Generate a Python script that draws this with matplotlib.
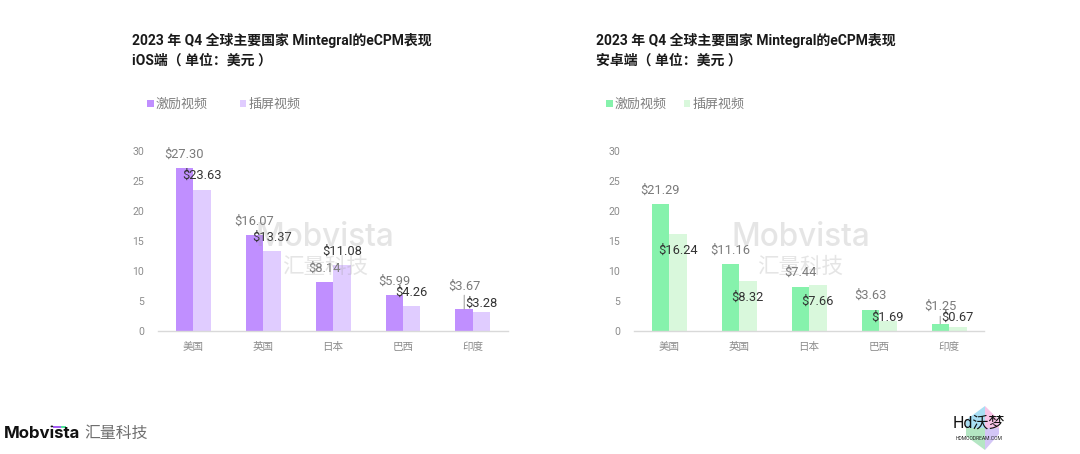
import matplotlib
matplotlib.use("Agg")
import matplotlib.pyplot as plt
from matplotlib.patches import Polygon, Rectangle

plt.rcParams['font.family'] = ['Roboto', 'Noto Sans CJK SC', 'DejaVu Sans']

W, H = 1080, 454
countries = ['美国', '英国', '日本', '巴西', '印度']
yticks = [0, 5, 10, 15, 20, 25, 30]
series_names = ['激励视频', '插屏视频']

ios_reward = [27.30, 16.07, 8.14, 5.99, 3.67]
ios_inter = [23.63, 13.37, 11.08, 4.26, 3.28]
android_reward = [21.29, 11.16, 7.44, 3.63, 1.25]
android_inter = [16.24, 8.32, 7.66, 1.69, 0.67]

# vertical label offsets in pixels above the bar top
ios_reward_dy = [13.5, 13.5, 13.8, 13.7, 22.6]
ios_inter_dy = [13.8, 14, 13.8, 13.7, 8]
android_reward_dy = [13.6, 14, 14, 13.8, 17]
android_inter_dy = [-16.4, -15.9, -16, 4, 10.3]

PX = 72 / 100  # points per pixel at dpi 100
BAR_W = 0.25
fig = plt.figure(figsize=(W / 100, H / 100), dpi=100, facecolor='white')


def make_axes(x0, x1, y_top=151.3, y_bot=331.3):
    ax = fig.add_axes([x0 / W, 1 - y_bot / H, (x1 - x0) / W, (y_bot - y_top) / H], zorder=2)
    ax.set_xlim(-0.5, 4.5)
    ax.set_ylim(0, 30)
    ax.patch.set_alpha(0)
    for s in ('top', 'right', 'left'):
        ax.spines[s].set_visible(False)
    ax.spines['bottom'].set_color('#d9d9d9')
    ax.spines['bottom'].set_linewidth(1.0)
    ax.set_yticks(yticks)
    ax.set_xticks(range(len(countries)), countries)
    ax.tick_params(axis='both', length=0, colors='#8c8c8c', labelsize=7.6)
    ax.tick_params(axis='x', pad=8)
    ax.tick_params(axis='y', pad=10)
    return ax


def draw(ax, a, b, ca, cb, dya, dyb):
    xs = list(range(len(a)))
    ha = ax.bar([x - BAR_W / 2 for x in xs], a, BAR_W, color=ca)
    hb = ax.bar([x + BAR_W / 2 for x in xs], b, BAR_W, color=cb)
    for x, v, dy in zip(xs, a, dya):
        ax.annotate(f'${v:.2f}', (x - BAR_W / 2, v), xytext=(0, dy * PX), textcoords='offset points',
                    ha='center', va='center', fontsize=9.3, color='#7a7a7a', zorder=6)
    for x, v, dy in zip(xs, b, dyb):
        ax.annotate(f'${v:.2f}', (x + BAR_W / 2, v), xytext=(0, dy * PX), textcoords='offset points',
                    ha='center', va='center', fontsize=9.3, color='#333333', zorder=6)
    return ha, hb


def leader(ax, i, v, length):
    ax.annotate('', (i - BAR_W / 2, v), xytext=(0, length * PX), textcoords='offset points',
                arrowprops=dict(arrowstyle='-', color='#a6a6a6', lw=0.8, shrinkA=0, shrinkB=0))


ax1 = make_axes(158, 508)
h1 = draw(ax1, ios_reward, ios_inter, '#c08fff', '#e0ccff', ios_reward_dy, ios_inter_dy)
leader(ax1, 4, ios_reward[4], 14)

ax2 = make_axes(634, 984)
h2 = draw(ax2, android_reward, android_inter, '#86f2ac', '#d9f8dc', android_reward_dy, android_inter_dy)
leader(ax2, 4, android_reward[4], 7.5)

for h, x, gap in ((h1, 147, 2.45), (h2, 606, 1.3)):
    fig.legend(h, series_names, ncols=2, frameon=False, loc='center left',
               bbox_to_anchor=(x / W, 1 - 104.5 / H), fontsize=9.4, labelcolor='#7f7f7f',
               handlelength=0.5, handleheight=0.5, handletextpad=0.16, columnspacing=gap,
               borderpad=0, borderaxespad=0)

# overlay in pixel coordinates: titles, watermarks, logos
ov = fig.add_axes([0, 0, 1, 1], zorder=5)
ov.set_xlim(0, W)
ov.set_ylim(H, 0)
ov.axis('off')
ov.patch.set_alpha(0)

for x, sub in ((132, 'iOS端（ 单位：美元 ）'), (596, '安卓端（ 单位：美元 ）')):
    ov.text(x, 40, '2023 年 Q4 全球主要国家 Mintegral的eCPM表现', fontsize=10, fontweight='bold',
            color='#1a1a1a', va='center', ha='left')
    ov.text(x, 61, sub, fontsize=10, fontweight='bold', color='#1a1a1a', va='center', ha='left')

for x0, x1 in ((325, 325), (801, 800.5)):
    ov.text(x0, 238, 'Mobvista', fontsize=22.7, fontweight='medium', color='#9a9a9a', alpha=0.25,
            ha='center', va='center', family=['Inter', 'DejaVu Sans'])
    ov.text(x1, 267.5, '汇量科技', fontsize=15.5, color='#9a9a9a', alpha=0.25, ha='center', va='center')

ov.text(4, 433, 'Mobvista', fontsize=12.1, color='#111111', fontweight='bold', ha='left', va='center',
        family=['Inter', 'DejaVu Sans'])
ov.text(84, 433, '汇量科技', fontsize=11.4, color='#6e6e6e', ha='left', va='center')
ov.add_patch(Rectangle((53, 425.5), 7.5, 2.2, color='#a45cf5', lw=0))
ov.add_patch(Rectangle((60.5, 425.5), 5.5, 2.2, color='#52e39a', lw=0))

cx, cy = 985, 428
ov.add_patch(Polygon([(cx, cy - 22), (cx, cy), (cx - 19, cy), (cx - 19, cy - 8)], color='#a9def3', lw=0))
ov.add_patch(Polygon([(cx, cy - 22), (cx + 14, cy - 8), (cx + 14, cy), (cx, cy)], color='#f8c3e6', lw=0))
ov.add_patch(Polygon([(cx - 19, cy), (cx, cy), (cx, cy + 22), (cx - 19, cy + 8)], color='#b4e6c3', lw=0))
ov.add_patch(Polygon([(cx, cy), (cx + 14, cy), (cx + 14, cy + 6), (cx, cy + 22)], color='#d3c6f6', lw=0))
ov.text(979, 423, 'Hd沃梦', fontsize=11.5, color='#111111', ha='center', va='center')
ov.text(979, 438, 'HDMOODREAM.COM', fontsize=3.6, color='#222222', ha='center', va='center')

fig.savefig('out.png', dpi=100, facecolor='white')
